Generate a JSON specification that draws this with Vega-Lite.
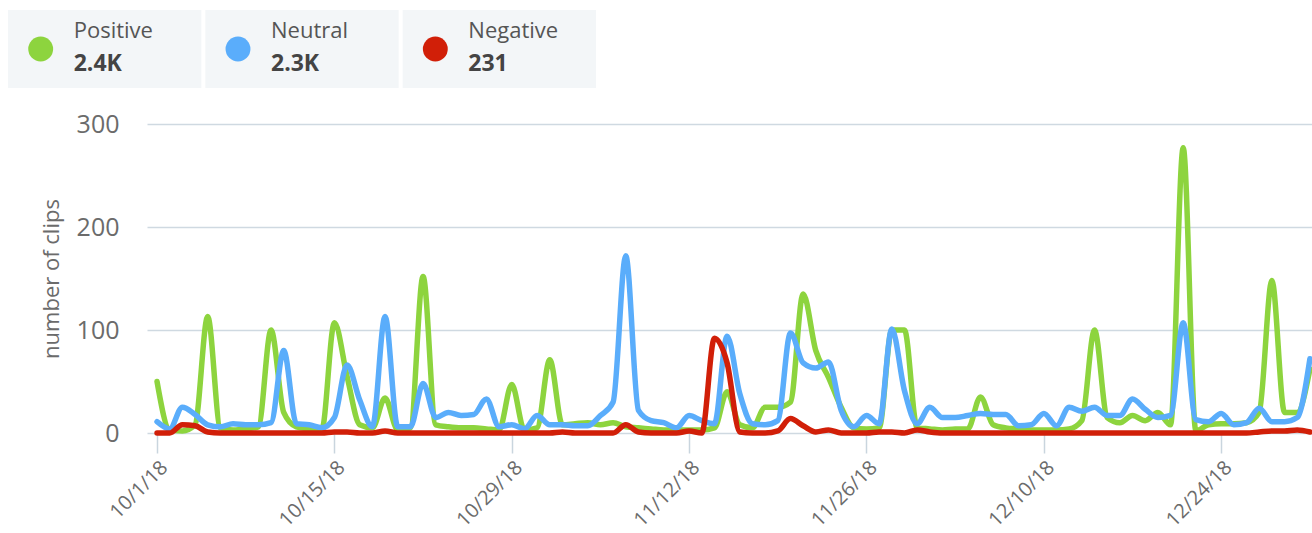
{
  "$schema": "https://vega.github.io/schema/vega-lite/v6.json",
  "padding": {"left": 8, "top": 10, "right": 0, "bottom": 0},
  "background": "white",
  "config": {"view": {"stroke": null}, "font": "Open Sans"},
  "spacing": 24,
  "datasets": {
    "legend": [
      {"sentiment": "Positive", "total": "2.4K"},
      {"sentiment": "Neutral", "total": "2.3K"},
      {"sentiment": "Negative", "total": "231"}
    ],
    "clips": [
{"date":"2018/10/01","sentiment":"Positive","clips":50},
{"date":"2018/10/02","sentiment":"Positive","clips":3},
{"date":"2018/10/03","sentiment":"Positive","clips":2},
{"date":"2018/10/04","sentiment":"Positive","clips":8},
{"date":"2018/10/05","sentiment":"Positive","clips":113},
{"date":"2018/10/06","sentiment":"Positive","clips":5},
{"date":"2018/10/07","sentiment":"Positive","clips":3},
{"date":"2018/10/08","sentiment":"Positive","clips":4},
{"date":"2018/10/09","sentiment":"Positive","clips":6},
{"date":"2018/10/10","sentiment":"Positive","clips":100},
{"date":"2018/10/11","sentiment":"Positive","clips":20},
{"date":"2018/10/12","sentiment":"Positive","clips":6},
{"date":"2018/10/13","sentiment":"Positive","clips":4},
{"date":"2018/10/14","sentiment":"Positive","clips":3},
{"date":"2018/10/15","sentiment":"Positive","clips":107},
{"date":"2018/10/16","sentiment":"Positive","clips":55},
{"date":"2018/10/17","sentiment":"Positive","clips":8},
{"date":"2018/10/18","sentiment":"Positive","clips":5},
{"date":"2018/10/19","sentiment":"Positive","clips":34},
{"date":"2018/10/20","sentiment":"Positive","clips":3},
{"date":"2018/10/21","sentiment":"Positive","clips":5},
{"date":"2018/10/22","sentiment":"Positive","clips":152},
{"date":"2018/10/23","sentiment":"Positive","clips":8},
{"date":"2018/10/24","sentiment":"Positive","clips":6},
{"date":"2018/10/25","sentiment":"Positive","clips":5},
{"date":"2018/10/26","sentiment":"Positive","clips":5},
{"date":"2018/10/27","sentiment":"Positive","clips":4},
{"date":"2018/10/28","sentiment":"Positive","clips":3},
{"date":"2018/10/29","sentiment":"Positive","clips":47},
{"date":"2018/10/30","sentiment":"Positive","clips":3},
{"date":"2018/10/31","sentiment":"Positive","clips":5},
{"date":"2018/11/01","sentiment":"Positive","clips":71},
{"date":"2018/11/02","sentiment":"Positive","clips":8},
{"date":"2018/11/03","sentiment":"Positive","clips":9},
{"date":"2018/11/04","sentiment":"Positive","clips":10},
{"date":"2018/11/05","sentiment":"Positive","clips":8},
{"date":"2018/11/06","sentiment":"Positive","clips":10},
{"date":"2018/11/07","sentiment":"Positive","clips":6},
{"date":"2018/11/08","sentiment":"Positive","clips":5},
{"date":"2018/11/09","sentiment":"Positive","clips":4},
{"date":"2018/11/10","sentiment":"Positive","clips":3},
{"date":"2018/11/11","sentiment":"Positive","clips":3},
{"date":"2018/11/12","sentiment":"Positive","clips":3},
{"date":"2018/11/13","sentiment":"Positive","clips":3},
{"date":"2018/11/14","sentiment":"Positive","clips":5},
{"date":"2018/11/15","sentiment":"Positive","clips":40},
{"date":"2018/11/16","sentiment":"Positive","clips":8},
{"date":"2018/11/17","sentiment":"Positive","clips":5},
{"date":"2018/11/18","sentiment":"Positive","clips":25},
{"date":"2018/11/19","sentiment":"Positive","clips":25},
{"date":"2018/11/20","sentiment":"Positive","clips":30},
{"date":"2018/11/21","sentiment":"Positive","clips":135},
{"date":"2018/11/22","sentiment":"Positive","clips":80},
{"date":"2018/11/23","sentiment":"Positive","clips":54},
{"date":"2018/11/24","sentiment":"Positive","clips":25},
{"date":"2018/11/25","sentiment":"Positive","clips":5},
{"date":"2018/11/26","sentiment":"Positive","clips":4},
{"date":"2018/11/27","sentiment":"Positive","clips":5},
{"date":"2018/11/28","sentiment":"Positive","clips":100},
{"date":"2018/11/29","sentiment":"Positive","clips":100},
{"date":"2018/11/30","sentiment":"Positive","clips":5},
{"date":"2018/12/01","sentiment":"Positive","clips":4},
{"date":"2018/12/02","sentiment":"Positive","clips":3},
{"date":"2018/12/03","sentiment":"Positive","clips":4},
{"date":"2018/12/04","sentiment":"Positive","clips":4},
{"date":"2018/12/05","sentiment":"Positive","clips":35},
{"date":"2018/12/06","sentiment":"Positive","clips":8},
{"date":"2018/12/07","sentiment":"Positive","clips":5},
{"date":"2018/12/08","sentiment":"Positive","clips":4},
{"date":"2018/12/09","sentiment":"Positive","clips":3},
{"date":"2018/12/10","sentiment":"Positive","clips":3},
{"date":"2018/12/11","sentiment":"Positive","clips":3},
{"date":"2018/12/12","sentiment":"Positive","clips":4},
{"date":"2018/12/13","sentiment":"Positive","clips":12},
{"date":"2018/12/14","sentiment":"Positive","clips":100},
{"date":"2018/12/15","sentiment":"Positive","clips":15},
{"date":"2018/12/16","sentiment":"Positive","clips":10},
{"date":"2018/12/17","sentiment":"Positive","clips":17},
{"date":"2018/12/18","sentiment":"Positive","clips":12},
{"date":"2018/12/19","sentiment":"Positive","clips":20},
{"date":"2018/12/20","sentiment":"Positive","clips":8},
{"date":"2018/12/21","sentiment":"Positive","clips":277},
{"date":"2018/12/22","sentiment":"Positive","clips":2},
{"date":"2018/12/23","sentiment":"Positive","clips":8},
{"date":"2018/12/24","sentiment":"Positive","clips":9},
{"date":"2018/12/25","sentiment":"Positive","clips":9},
{"date":"2018/12/26","sentiment":"Positive","clips":10},
{"date":"2018/12/27","sentiment":"Positive","clips":20},
{"date":"2018/12/28","sentiment":"Positive","clips":148},
{"date":"2018/12/29","sentiment":"Positive","clips":20},
{"date":"2018/12/30","sentiment":"Positive","clips":20},
{"date":"2018/12/31","sentiment":"Positive","clips":62},
{"date":"2018/10/01","sentiment":"Neutral","clips":11},
{"date":"2018/10/02","sentiment":"Neutral","clips":4},
{"date":"2018/10/03","sentiment":"Neutral","clips":25},
{"date":"2018/10/04","sentiment":"Neutral","clips":18},
{"date":"2018/10/05","sentiment":"Neutral","clips":8},
{"date":"2018/10/06","sentiment":"Neutral","clips":6},
{"date":"2018/10/07","sentiment":"Neutral","clips":9},
{"date":"2018/10/08","sentiment":"Neutral","clips":8},
{"date":"2018/10/09","sentiment":"Neutral","clips":8},
{"date":"2018/10/10","sentiment":"Neutral","clips":10},
{"date":"2018/10/11","sentiment":"Neutral","clips":80},
{"date":"2018/10/12","sentiment":"Neutral","clips":9},
{"date":"2018/10/13","sentiment":"Neutral","clips":8},
{"date":"2018/10/14","sentiment":"Neutral","clips":5},
{"date":"2018/10/15","sentiment":"Neutral","clips":15},
{"date":"2018/10/16","sentiment":"Neutral","clips":66},
{"date":"2018/10/17","sentiment":"Neutral","clips":32},
{"date":"2018/10/18","sentiment":"Neutral","clips":6},
{"date":"2018/10/19","sentiment":"Neutral","clips":113},
{"date":"2018/10/20","sentiment":"Neutral","clips":6},
{"date":"2018/10/21","sentiment":"Neutral","clips":6},
{"date":"2018/10/22","sentiment":"Neutral","clips":48},
{"date":"2018/10/23","sentiment":"Neutral","clips":15},
{"date":"2018/10/24","sentiment":"Neutral","clips":20},
{"date":"2018/10/25","sentiment":"Neutral","clips":17},
{"date":"2018/10/26","sentiment":"Neutral","clips":18},
{"date":"2018/10/27","sentiment":"Neutral","clips":33},
{"date":"2018/10/28","sentiment":"Neutral","clips":6},
{"date":"2018/10/29","sentiment":"Neutral","clips":8},
{"date":"2018/10/30","sentiment":"Neutral","clips":4},
{"date":"2018/10/31","sentiment":"Neutral","clips":17},
{"date":"2018/11/01","sentiment":"Neutral","clips":8},
{"date":"2018/11/02","sentiment":"Neutral","clips":8},
{"date":"2018/11/03","sentiment":"Neutral","clips":7},
{"date":"2018/11/04","sentiment":"Neutral","clips":7},
{"date":"2018/11/05","sentiment":"Neutral","clips":17},
{"date":"2018/11/06","sentiment":"Neutral","clips":30},
{"date":"2018/11/07","sentiment":"Neutral","clips":172},
{"date":"2018/11/08","sentiment":"Neutral","clips":22},
{"date":"2018/11/09","sentiment":"Neutral","clips":12},
{"date":"2018/11/10","sentiment":"Neutral","clips":10},
{"date":"2018/11/11","sentiment":"Neutral","clips":5},
{"date":"2018/11/12","sentiment":"Neutral","clips":17},
{"date":"2018/11/13","sentiment":"Neutral","clips":12},
{"date":"2018/11/14","sentiment":"Neutral","clips":9},
{"date":"2018/11/15","sentiment":"Neutral","clips":94},
{"date":"2018/11/16","sentiment":"Neutral","clips":38},
{"date":"2018/11/17","sentiment":"Neutral","clips":9},
{"date":"2018/11/18","sentiment":"Neutral","clips":8},
{"date":"2018/11/19","sentiment":"Neutral","clips":12},
{"date":"2018/11/20","sentiment":"Neutral","clips":97},
{"date":"2018/11/21","sentiment":"Neutral","clips":68},
{"date":"2018/11/22","sentiment":"Neutral","clips":63},
{"date":"2018/11/23","sentiment":"Neutral","clips":69},
{"date":"2018/11/24","sentiment":"Neutral","clips":22},
{"date":"2018/11/25","sentiment":"Neutral","clips":6},
{"date":"2018/11/26","sentiment":"Neutral","clips":17},
{"date":"2018/11/27","sentiment":"Neutral","clips":9},
{"date":"2018/11/28","sentiment":"Neutral","clips":101},
{"date":"2018/11/29","sentiment":"Neutral","clips":41},
{"date":"2018/11/30","sentiment":"Neutral","clips":9},
{"date":"2018/12/01","sentiment":"Neutral","clips":25},
{"date":"2018/12/02","sentiment":"Neutral","clips":15},
{"date":"2018/12/03","sentiment":"Neutral","clips":15},
{"date":"2018/12/04","sentiment":"Neutral","clips":17},
{"date":"2018/12/05","sentiment":"Neutral","clips":19},
{"date":"2018/12/06","sentiment":"Neutral","clips":18},
{"date":"2018/12/07","sentiment":"Neutral","clips":18},
{"date":"2018/12/08","sentiment":"Neutral","clips":7},
{"date":"2018/12/09","sentiment":"Neutral","clips":8},
{"date":"2018/12/10","sentiment":"Neutral","clips":19},
{"date":"2018/12/11","sentiment":"Neutral","clips":7},
{"date":"2018/12/12","sentiment":"Neutral","clips":25},
{"date":"2018/12/13","sentiment":"Neutral","clips":21},
{"date":"2018/12/14","sentiment":"Neutral","clips":25},
{"date":"2018/12/15","sentiment":"Neutral","clips":17},
{"date":"2018/12/16","sentiment":"Neutral","clips":17},
{"date":"2018/12/17","sentiment":"Neutral","clips":33},
{"date":"2018/12/18","sentiment":"Neutral","clips":23},
{"date":"2018/12/19","sentiment":"Neutral","clips":15},
{"date":"2018/12/20","sentiment":"Neutral","clips":17},
{"date":"2018/12/21","sentiment":"Neutral","clips":107},
{"date":"2018/12/22","sentiment":"Neutral","clips":13},
{"date":"2018/12/23","sentiment":"Neutral","clips":11},
{"date":"2018/12/24","sentiment":"Neutral","clips":19},
{"date":"2018/12/25","sentiment":"Neutral","clips":8},
{"date":"2018/12/26","sentiment":"Neutral","clips":10},
{"date":"2018/12/27","sentiment":"Neutral","clips":24},
{"date":"2018/12/28","sentiment":"Neutral","clips":11},
{"date":"2018/12/29","sentiment":"Neutral","clips":11},
{"date":"2018/12/30","sentiment":"Neutral","clips":15},
{"date":"2018/12/31","sentiment":"Neutral","clips":72},
{"date":"2018/10/01","sentiment":"Negative","clips":0},
{"date":"2018/10/02","sentiment":"Negative","clips":0},
{"date":"2018/10/03","sentiment":"Negative","clips":8},
{"date":"2018/10/04","sentiment":"Negative","clips":7},
{"date":"2018/10/05","sentiment":"Negative","clips":1},
{"date":"2018/10/06","sentiment":"Negative","clips":0},
{"date":"2018/10/07","sentiment":"Negative","clips":0},
{"date":"2018/10/08","sentiment":"Negative","clips":0},
{"date":"2018/10/09","sentiment":"Negative","clips":0},
{"date":"2018/10/10","sentiment":"Negative","clips":0},
{"date":"2018/10/11","sentiment":"Negative","clips":0},
{"date":"2018/10/12","sentiment":"Negative","clips":0},
{"date":"2018/10/13","sentiment":"Negative","clips":0},
{"date":"2018/10/14","sentiment":"Negative","clips":0},
{"date":"2018/10/15","sentiment":"Negative","clips":1},
{"date":"2018/10/16","sentiment":"Negative","clips":1},
{"date":"2018/10/17","sentiment":"Negative","clips":0},
{"date":"2018/10/18","sentiment":"Negative","clips":0},
{"date":"2018/10/19","sentiment":"Negative","clips":2},
{"date":"2018/10/20","sentiment":"Negative","clips":0},
{"date":"2018/10/21","sentiment":"Negative","clips":0},
{"date":"2018/10/22","sentiment":"Negative","clips":0},
{"date":"2018/10/23","sentiment":"Negative","clips":0},
{"date":"2018/10/24","sentiment":"Negative","clips":0},
{"date":"2018/10/25","sentiment":"Negative","clips":0},
{"date":"2018/10/26","sentiment":"Negative","clips":0},
{"date":"2018/10/27","sentiment":"Negative","clips":0},
{"date":"2018/10/28","sentiment":"Negative","clips":0},
{"date":"2018/10/29","sentiment":"Negative","clips":0},
{"date":"2018/10/30","sentiment":"Negative","clips":0},
{"date":"2018/10/31","sentiment":"Negative","clips":0},
{"date":"2018/11/01","sentiment":"Negative","clips":0},
{"date":"2018/11/02","sentiment":"Negative","clips":1},
{"date":"2018/11/03","sentiment":"Negative","clips":0},
{"date":"2018/11/04","sentiment":"Negative","clips":0},
{"date":"2018/11/05","sentiment":"Negative","clips":0},
{"date":"2018/11/06","sentiment":"Negative","clips":0},
{"date":"2018/11/07","sentiment":"Negative","clips":8},
{"date":"2018/11/08","sentiment":"Negative","clips":1},
{"date":"2018/11/09","sentiment":"Negative","clips":0},
{"date":"2018/11/10","sentiment":"Negative","clips":0},
{"date":"2018/11/11","sentiment":"Negative","clips":0},
{"date":"2018/11/12","sentiment":"Negative","clips":2},
{"date":"2018/11/13","sentiment":"Negative","clips":0},
{"date":"2018/11/14","sentiment":"Negative","clips":92},
{"date":"2018/11/15","sentiment":"Negative","clips":68},
{"date":"2018/11/16","sentiment":"Negative","clips":1},
{"date":"2018/11/17","sentiment":"Negative","clips":0},
{"date":"2018/11/18","sentiment":"Negative","clips":0},
{"date":"2018/11/19","sentiment":"Negative","clips":2},
{"date":"2018/11/20","sentiment":"Negative","clips":14},
{"date":"2018/11/21","sentiment":"Negative","clips":7},
{"date":"2018/11/22","sentiment":"Negative","clips":1},
{"date":"2018/11/23","sentiment":"Negative","clips":3},
{"date":"2018/11/24","sentiment":"Negative","clips":0},
{"date":"2018/11/25","sentiment":"Negative","clips":0},
{"date":"2018/11/26","sentiment":"Negative","clips":0},
{"date":"2018/11/27","sentiment":"Negative","clips":1},
{"date":"2018/11/28","sentiment":"Negative","clips":1},
{"date":"2018/11/29","sentiment":"Negative","clips":0},
{"date":"2018/11/30","sentiment":"Negative","clips":3},
{"date":"2018/12/01","sentiment":"Negative","clips":1},
{"date":"2018/12/02","sentiment":"Negative","clips":0},
{"date":"2018/12/03","sentiment":"Negative","clips":0},
{"date":"2018/12/04","sentiment":"Negative","clips":0},
{"date":"2018/12/05","sentiment":"Negative","clips":0},
{"date":"2018/12/06","sentiment":"Negative","clips":0},
{"date":"2018/12/07","sentiment":"Negative","clips":0},
{"date":"2018/12/08","sentiment":"Negative","clips":0},
{"date":"2018/12/09","sentiment":"Negative","clips":0},
{"date":"2018/12/10","sentiment":"Negative","clips":0},
{"date":"2018/12/11","sentiment":"Negative","clips":0},
{"date":"2018/12/12","sentiment":"Negative","clips":0},
{"date":"2018/12/13","sentiment":"Negative","clips":0},
{"date":"2018/12/14","sentiment":"Negative","clips":0},
{"date":"2018/12/15","sentiment":"Negative","clips":0},
{"date":"2018/12/16","sentiment":"Negative","clips":0},
{"date":"2018/12/17","sentiment":"Negative","clips":0},
{"date":"2018/12/18","sentiment":"Negative","clips":0},
{"date":"2018/12/19","sentiment":"Negative","clips":0},
{"date":"2018/12/20","sentiment":"Negative","clips":0},
{"date":"2018/12/21","sentiment":"Negative","clips":0},
{"date":"2018/12/22","sentiment":"Negative","clips":0},
{"date":"2018/12/23","sentiment":"Negative","clips":0},
{"date":"2018/12/24","sentiment":"Negative","clips":0},
{"date":"2018/12/25","sentiment":"Negative","clips":0},
{"date":"2018/12/26","sentiment":"Negative","clips":0},
{"date":"2018/12/27","sentiment":"Negative","clips":1},
{"date":"2018/12/28","sentiment":"Negative","clips":2},
{"date":"2018/12/29","sentiment":"Negative","clips":2},
{"date":"2018/12/30","sentiment":"Negative","clips":3},
{"date":"2018/12/31","sentiment":"Negative","clips":1}
    ]
  },
  "vconcat": [
    {
      "width": 588,
      "height": 78,
      "data": {"name": "legend"},
      "encoding": {
        "x": {
          "field": "sentiment",
          "type": "nominal",
          "sort": ["Positive", "Neutral", "Negative"],
          "scale": {"domain": ["Positive", "Neutral", "Negative"], "range": [-139, 449], "paddingInner": 0.02, "paddingOuter": 0},
          "axis": null
        }
      },
      "layer": [
        {"mark": {"type": "rect", "fill": "#f3f6f8"}},
        {
          "mark": {"type": "point", "filled": true, "size": 620, "opacity": 1, "xOffset": -64},
          "encoding": {
            "color": {
              "field": "sentiment",
              "type": "nominal",
              "scale": {"domain": ["Positive", "Neutral", "Negative"], "range": ["#8dd43e", "#5aadfb", "#d11f08"]},
              "legend": null
            }
          }
        },
        {
          "mark": {"type": "text", "align": "left", "baseline": "alphabetic", "dx": -31, "dy": -11, "fontSize": 22, "color": "#555555"},
          "encoding": {"text": {"field": "sentiment", "type": "nominal"}}
        },
        {
          "mark": {"type": "text", "align": "left", "baseline": "alphabetic", "dx": -31, "dy": 22, "fontSize": 23, "fontWeight": "bold", "color": "#444444"},
          "encoding": {"text": {"field": "total", "type": "nominal"}}
        }
      ]
    },
    {
      "width": 1165,
      "height": 309,
      "data": {"name": "clips"},
      "mark": {"type": "line", "interpolate": "monotone", "strokeWidth": 5.5, "strokeCap": "round", "strokeJoin": "round"},
      "encoding": {
        "x": {
          "field": "date",
          "type": "temporal",
          "scale": {"domain": [{"year": 2018, "month": 9, "date": 30, "hours": 5}, {"year": 2018, "month": 12, "date": 31, "hours": 4}]},
          "axis": {
            "values": [
              {"year": 2018, "month": 10, "date": 1},
              {"year": 2018, "month": 10, "date": 15},
              {"year": 2018, "month": 10, "date": 29},
              {"year": 2018, "month": 11, "date": 12},
              {"year": 2018, "month": 11, "date": 26},
              {"year": 2018, "month": 12, "date": 10},
              {"year": 2018, "month": 12, "date": 24}
            ],
            "format": "%-m/%-d/%y",
            "labelAngle": -45,
            "labelAlign": "right",
            "labelBaseline": "top",
            "labelFontSize": 20,
            "labelColor": "#6b6b6b",
            "labelPadding": 4,
            "tickColor": "#c9d5de",
            "tickSize": 20,
            "tickWidth": 1.5,
            "domain": false,
            "grid": false,
            "title": null
          }
        },
        "y": {
          "field": "clips",
          "type": "quantitative",
          "scale": {"domain": [0, 300], "nice": false},
          "axis": {
            "values": [0, 100, 200, 300],
            "grid": true,
            "gridColor": "#cfd9e1",
            "gridWidth": 1.5,
            "ticks": false,
            "tickSize": 0,
            "domain": false,
            "labelFontSize": 25,
            "labelColor": "#6b6b6b",
            "labelPadding": 28,
            "title": "number of clips",
            "titleFontSize": 22,
            "titleFontWeight": "normal",
            "titleColor": "#6b6b6b",
            "titlePadding": 13
          }
        },
        "color": {
          "field": "sentiment",
          "type": "nominal",
          "scale": {"domain": ["Positive", "Neutral", "Negative"], "range": ["#8dd43e", "#5aadfb", "#d11f08"]},
          "legend": null
        }
      }
    }
  ]
}
